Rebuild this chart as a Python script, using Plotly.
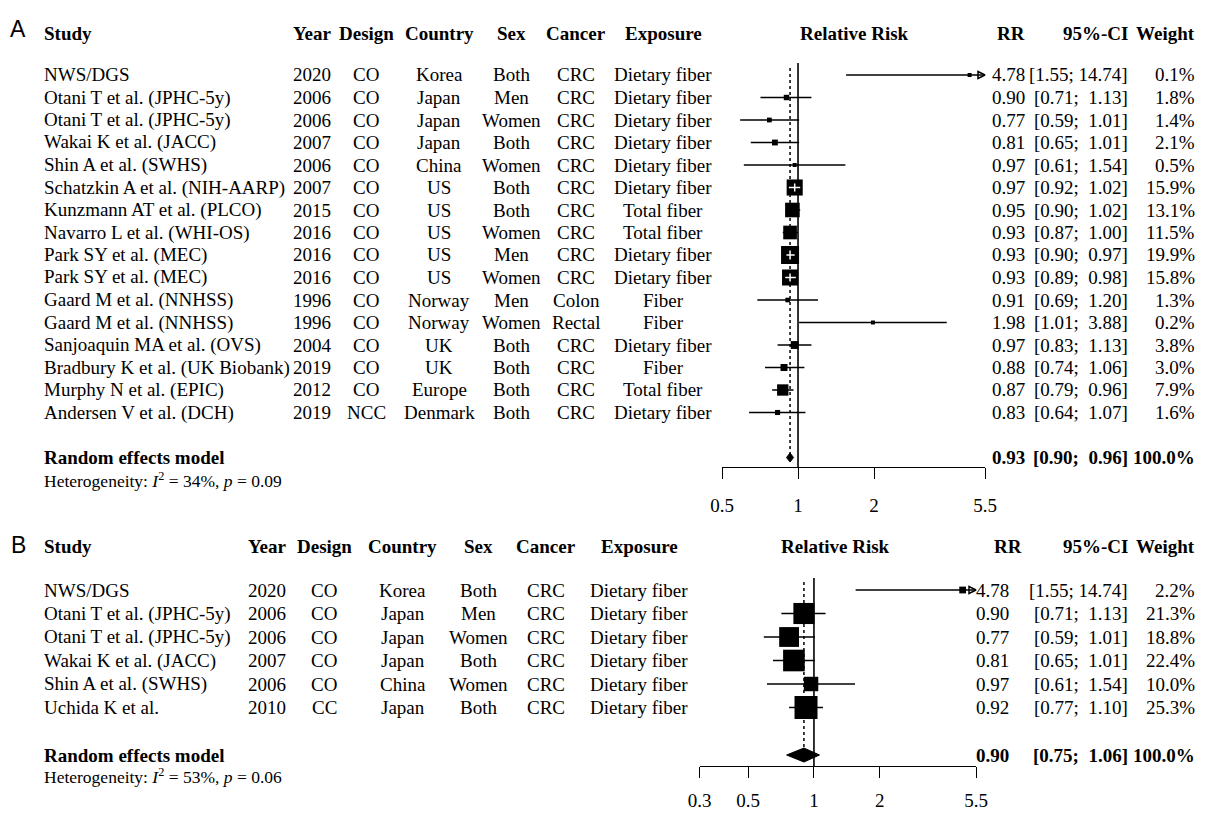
import math
import plotly.graph_objects as go

W, H = 1207, 813
SERIF = "Liberation Serif, Times New Roman, serif"
SANS = "Liberation Sans, Arial, sans-serif"
FS = 19
FS_SMALL = 17.5

# ---------------- Panel A: all cohort studies ----------------
a_study = ["NWS/DGS", "Otani T et al. (JPHC-5y)", "Otani T et al. (JPHC-5y)",
           "Wakai K et al. (JACC)", "Shin A et al. (SWHS)",
           "Schatzkin A et al. (NIH-AARP)", "Kunzmann AT et al. (PLCO)",
           "Navarro L et al. (WHI-OS)", "Park SY et al. (MEC)", "Park SY et al. (MEC)",
           "Gaard M et al. (NNHSS)", "Gaard M et al. (NNHSS)",
           "Sanjoaquin MA et al. (OVS)", "Bradbury K et al. (UK Biobank)",
           "Murphy N et al. (EPIC)", "Andersen V et al. (DCH)"]
a_year = [2020, 2006, 2006, 2007, 2006, 2007, 2015, 2016, 2016, 2016,
          1996, 1996, 2004, 2019, 2012, 2019]
a_design = ["CO", "CO", "CO", "CO", "CO", "CO", "CO", "CO", "CO", "CO",
            "CO", "CO", "CO", "CO", "CO", "NCC"]
a_country = ["Korea", "Japan", "Japan", "Japan", "China", "US", "US", "US", "US", "US",
             "Norway", "Norway", "UK", "UK", "Europe", "Denmark"]
a_sex = ["Both", "Men", "Women", "Both", "Women", "Both", "Both", "Women", "Men", "Women",
         "Men", "Women", "Both", "Both", "Both", "Both"]
a_cancer = ["CRC", "CRC", "CRC", "CRC", "CRC", "CRC", "CRC", "CRC", "CRC", "CRC",
            "Colon", "Rectal", "CRC", "CRC", "CRC", "CRC"]
a_exposure = ["Dietary fiber", "Dietary fiber", "Dietary fiber", "Dietary fiber",
              "Dietary fiber", "Dietary fiber", "Total fiber", "Total fiber",
              "Dietary fiber", "Dietary fiber", "Fiber", "Fiber", "Dietary fiber",
              "Fiber", "Total fiber", "Dietary fiber"]
a_rr = [4.78, 0.90, 0.77, 0.81, 0.97, 0.97, 0.95, 0.93, 0.93, 0.93,
        0.91, 1.98, 0.97, 0.88, 0.87, 0.83]
a_lo = [1.55, 0.71, 0.59, 0.65, 0.61, 0.92, 0.90, 0.87, 0.90, 0.89,
        0.69, 1.01, 0.83, 0.74, 0.79, 0.64]
a_hi = [14.74, 1.13, 1.01, 1.01, 1.54, 1.02, 1.02, 1.00, 0.97, 0.98,
        1.20, 3.88, 1.13, 1.06, 0.96, 1.07]
a_weight = [0.1, 1.8, 1.4, 2.1, 0.5, 15.9, 13.1, 11.5, 19.9, 15.8,
            1.3, 0.2, 3.8, 3.0, 7.9, 1.6]
a_pooled = [0.93, 0.90, 0.96]
a_i2, a_p = 34, "0.09"
a_ticks = [0.5, 1, 2, 5.5]
a_tick_labels = ["0.5", "1", "2", "5.5"]

# ---------------- Panel B: Asian studies ----------------
b_study = ["NWS/DGS", "Otani T et al. (JPHC-5y)", "Otani T et al. (JPHC-5y)",
           "Wakai K et al. (JACC)", "Shin A et al. (SWHS)", "Uchida K et al."]
b_year = [2020, 2006, 2006, 2007, 2006, 2010]
b_design = ["CO", "CO", "CO", "CO", "CO", "CC"]
b_country = ["Korea", "Japan", "Japan", "Japan", "China", "Japan"]
b_sex = ["Both", "Men", "Women", "Both", "Women", "Both"]
b_cancer = ["CRC", "CRC", "CRC", "CRC", "CRC", "CRC"]
b_exposure = ["Dietary fiber", "Dietary fiber", "Dietary fiber", "Dietary fiber",
              "Dietary fiber", "Dietary fiber"]
b_rr = [4.78, 0.90, 0.77, 0.81, 0.97, 0.92]
b_lo = [1.55, 0.71, 0.59, 0.65, 0.61, 0.77]
b_hi = [14.74, 1.13, 1.01, 1.01, 1.54, 1.10]
b_weight = [2.2, 21.3, 18.8, 22.4, 10.0, 25.3]
b_pooled = [0.90, 0.75, 1.06]
b_i2, b_p = 53, "0.06"
b_ticks = [0.3, 0.5, 1, 2, 5.5]
b_tick_labels = ["0.3", "0.5", "1", "2", "5.5"]

HEADERS = ["Study", "Year", "Design", "Country", "Sex", "Cancer", "Exposure"]

# Page geometry of each panel (pixels)
panels = [
    dict(tag="A", xa="x", ya="y",
         study=a_study, year=a_year, design=a_design, country=a_country, sex=a_sex,
         cancer=a_cancer, exposure=a_exposure, rr=a_rr, lo=a_lo, hi=a_hi, w=a_weight,
         pooled=a_pooled, i2=a_i2, p=a_p, ticks=a_ticks, tick_labels=a_tick_labels,
         xlim=(0.5, 5.5), x_px=(722, 985),
         row0=75, row_h=22.5, head_px=33, pooled_px=457.5, het_px=480,
         axis_px=467, top_px=63, dash_top_px=68, letter_px=(18, 29),
         box_max=18, diamond_half=4.5, standoff=10,
         col_x=dict(Study=42, Year=312, Design=366, Country=439, Sex=511,
                    Cancer=576, Exposure=663),
         rr_head=854, rr_x=1027, rr_hdr_x=1027, ci_x=1130, wt_x=1197),
    dict(tag="B", xa="x2", ya="y2",
         study=b_study, year=b_year, design=b_design, country=b_country, sex=b_sex,
         cancer=b_cancer, exposure=b_exposure, rr=b_rr, lo=b_lo, hi=b_hi, w=b_weight,
         pooled=b_pooled, i2=b_i2, p=b_p, ticks=b_ticks, tick_labels=b_tick_labels,
         xlim=(0.3, 5.5), x_px=(699.5, 976),
         row0=590, row_h=23.5, head_px=546, pooled_px=755, het_px=776,
         axis_px=766, top_px=578, dash_top_px=582, letter_px=(18, 545),
         box_max=23, diamond_half=7, standoff=6,
         col_x=dict(Study=42, Year=267, Design=324, Country=403, Sex=478,
                    Cancer=546, Exposure=639),
         rr_head=836, rr_x=1011, rr_hdr_x=1024, ci_x=1130, wt_x=1197),
]


def px_x(v):
    return v / W


def px_y(v):
    return 1 - v / H


def fmt_ci(lo, hi):
    pad = "\u00a0" if hi < 10 else ""
    return f"[{lo:.2f};{pad} {hi:.2f}]"


fig = go.Figure()
annotations = []
layout_axes = {}

for P in panels:
    xa, ya = P["xa"], P["ya"]
    r0, rh = P["row0"], P["row_h"]

    def row_of(px, r0=r0, rh=rh):
        return (px - r0) / rh

    def row_px(row, r0=r0, rh=rh):
        return r0 + row * rh

    xmin, xmax = P["xlim"]
    lxmin, lxmax = math.log10(xmin), math.log10(xmax)
    ppd = (P["x_px"][1] - P["x_px"][0]) / (lxmax - lxmin)  # pixels per decade
    n = len(P["rr"])
    rows = list(range(n))

    axis_row = row_of(P["axis_px"])
    top_row = row_of(P["top_px"])

    # axes
    xkey = "xaxis" if xa == "x" else "xaxis" + xa[1:]
    ykey = "yaxis" if ya == "y" else "yaxis" + ya[1:]
    layout_axes[xkey] = dict(
        type="log", range=[lxmin, lxmax],
        domain=[px_x(P["x_px"][0]), px_x(P["x_px"][1])],
        anchor=ya, showgrid=False, zeroline=False,
        showline=True, linecolor="black", linewidth=1.4,
        ticks="outside", ticklen=11, tickwidth=1.4, tickcolor="black",
        tickvals=P["ticks"], ticktext=P["tick_labels"],
        tickfont=dict(family=SERIF, size=FS, color="black"),
        ticklabelstandoff=P["standoff"], fixedrange=True, automargin=False)
    layout_axes[ykey] = dict(
        range=[axis_row, top_row],
        domain=[px_y(P["axis_px"]), px_y(P["top_px"])],
        anchor=xa, visible=False, showgrid=False, zeroline=False,
        showticklabels=False, fixedrange=True, automargin=False)

    # reference line at RR = 1
    fig.add_trace(go.Scatter(x=[1, 1], y=[top_row, axis_row], mode="lines",
                             line=dict(color="black", width=1.6),
                             xaxis=xa, yaxis=ya, hoverinfo="skip", showlegend=False))
    # pooled estimate (dashed)
    est, plo, phi = P["pooled"]
    pooled_row = row_of(P["pooled_px"])
    fig.add_trace(go.Scatter(x=[est, est], y=[row_of(P["dash_top_px"]), pooled_row],
                             mode="lines",
                             line=dict(color="black", width=1.5, dash="3px,3px"),
                             xaxis=xa, yaxis=ya, hoverinfo="skip", showlegend=False))

    # confidence intervals (truncated at the axis limits)
    cx, cy, arr_x, arr_y = [], [], [], []
    for i in rows:
        lo = max(P["lo"][i], xmin)
        hi = min(P["hi"][i], xmax)
        cx += [lo, hi, None]
        cy += [i, i, None]
        if P["hi"][i] > xmax:
            arr_x.append(xmax)
            arr_y.append(i)
    fig.add_trace(go.Scatter(x=cx, y=cy, mode="lines",
                             line=dict(color="black", width=1.5),
                             xaxis=xa, yaxis=ya, hoverinfo="skip", showlegend=False))
    if arr_x:
        fig.add_trace(go.Scatter(x=arr_x, y=arr_y, mode="markers",
                                 marker=dict(symbol="arrow-right-open", size=7,
                                             color="black", opacity=1,
                                             line=dict(width=1.5, color="black")),
                                 cliponaxis=False, xaxis=xa, yaxis=ya,
                                 hoverinfo="skip", showlegend=False))

    # study boxes, area proportional to weight
    wmax = max(P["w"])
    sizes = [max(P["box_max"] * math.sqrt(w / wmax), 4) for w in P["w"]]
    fig.add_trace(go.Scatter(x=P["rr"], y=rows, mode="markers",
                             marker=dict(symbol="square", size=sizes, color="black",
                                         opacity=1, line=dict(width=0)),
                             cliponaxis=False, xaxis=xa, yaxis=ya,
                             hoverinfo="skip", showlegend=False))

    # CI drawn in white where it lies entirely inside its box
    wx, wy = [], []
    for i in rows:
        hw = sizes[i] / 2 / ppd
        le = math.log10(P["rr"][i])
        if math.log10(P["lo"][i]) >= le - hw and math.log10(P["hi"][i]) <= le + hw:
            wx += [P["lo"][i], P["hi"][i], None, P["rr"][i], P["rr"][i], None]
            vh = sizes[i] * 0.25 / rh
            wy += [i, i, None, i - vh, i + vh, None]
    if wx:
        fig.add_trace(go.Scatter(x=wx, y=wy, mode="lines",
                                 line=dict(color="white", width=1.5),
                                 xaxis=xa, yaxis=ya, hoverinfo="skip", showlegend=False))

    # pooled diamond
    dh = P["diamond_half"] / rh
    fig.add_trace(go.Scatter(x=[plo, est, phi, est, plo],
                             y=[pooled_row, pooled_row - dh, pooled_row,
                                pooled_row + dh, pooled_row],
                             mode="lines", fill="toself", fillcolor="black",
                             line=dict(color="black", width=1),
                             xaxis=xa, yaxis=ya, hoverinfo="skip", showlegend=False))

    # ---------- text columns (placed in page coordinates) ----------
    def txt(x_px, y_px, text, anchor="center", bold=False, size=FS, family=SERIF):
        annotations.append(dict(
            x=px_x(x_px), y=px_y(y_px), xref="paper", yref="paper",
            text=f"<b>{text}</b>" if bold else text,
            showarrow=False, xanchor=anchor, yanchor="middle",
            font=dict(family=family, size=size, color="black")))

    hy = P["head_px"]
    cols = P["col_x"]
    for h in HEADERS:
        txt(cols[h], hy, h, "left" if h == "Study" else "center", bold=True)
    txt(P["rr_head"], hy, "Relative Risk", "center", bold=True)
    txt(P["rr_hdr_x"], hy, "RR", "right", bold=True)
    txt(P["ci_x"], hy, "95%-CI", "right", bold=True)
    txt(P["wt_x"], hy, "Weight", "right", bold=True)

    for i in rows:
        y = row_px(i)
        txt(cols["Study"], y, P["study"][i], "left")
        txt(cols["Year"], y, str(P["year"][i]))
        txt(cols["Design"], y, P["design"][i])
        txt(cols["Country"], y, P["country"][i])
        txt(cols["Sex"], y, P["sex"][i])
        txt(cols["Cancer"], y, P["cancer"][i])
        txt(cols["Exposure"], y, P["exposure"][i])
        txt(P["rr_x"], y, f"{P['rr'][i]:.2f}", "right")
        txt(P["ci_x"], y, fmt_ci(P["lo"][i], P["hi"][i]), "right")
        txt(P["wt_x"], y, f"{P['w'][i]:.1f}%", "right")

    py = P["pooled_px"]
    txt(cols["Study"], py, "Random effects model", "left", bold=True)
    txt(P["rr_x"], py, f"{est:.2f}", "right", bold=True)
    txt(P["ci_x"], py, fmt_ci(plo, phi), "right", bold=True)
    txt(P["wt_x"], py, "100.0%", "right", bold=True)
    txt(cols["Study"], P["het_px"],
        f"Heterogeneity: <i>I</i><sup>2</sup> = {P['i2']}%, <i>p</i> = {P['p']}",
        "left", size=FS_SMALL)

    # panel letter
    txt(P["letter_px"][0], P["letter_px"][1], P["tag"], "center", size=23, family=SANS)

fig.update_layout(
    width=W, height=H, autosize=False,
    margin=dict(l=0, r=0, t=0, b=0, pad=0, autoexpand=False),
    paper_bgcolor="white", plot_bgcolor="white",
    showlegend=False,
    annotations=annotations,
    **layout_axes,
)

fig.write_html("out.html")
